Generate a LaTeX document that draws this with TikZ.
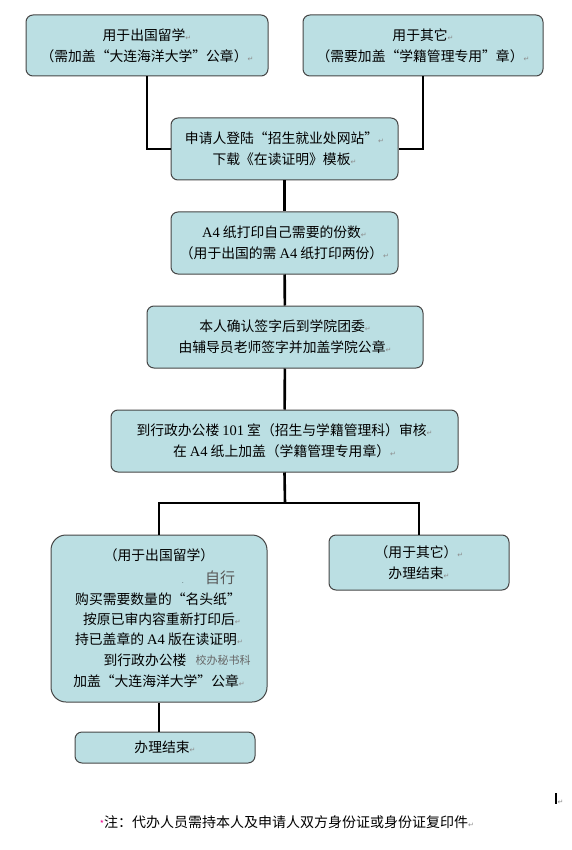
\documentclass[tikz,border=0pt]{standalone}
\usepackage{fontspec}
\setmainfont{Noto Sans CJK SC}
\newfontfamily\tnr{Liberation Serif}
\newfontfamily\dvs{DejaVu Sans}
\definecolor{boxfill}{RGB}{187,223,227}
\definecolor{boxline}{RGB}{70,70,70}
\definecolor{markgray}{RGB}{140,140,140}
\newcommand\retmark{{\dvs\color{markgray}\fontsize{7}{7}\selectfont ↵}}
\newcommand\lat[1]{{\tnr\fontsize{14.5}{14.5}\selectfont #1}}
\tikzset{
  flowbox/.style={draw=boxline, line width=1pt, fill=boxfill, rounded corners=7pt, inner sep=0pt},
  flowtext/.style={align=center, font=\fontsize{13.8}{21}\selectfont, inner sep=0pt},
  lntext/.style={font=\fontsize{13.8}{13.8}\selectfont, inner sep=0pt, anchor=base},
  conn/.style={line width=2.6pt, black}
}
\begin{document}
\begin{tikzpicture}[x=1pt,y=-1pt]
\useasboundingbox (0,0) rectangle (572,850);
% boxes
\node[flowbox, minimum width=242pt, minimum height=61pt] (b1) at (147,45.5) {};
\node[flowbox, minimum width=240pt, minimum height=61pt] (b2) at (423,45.5) {};
\node[flowbox, minimum width=227pt, minimum height=62pt] (b3) at (284.5,149) {};
\node[flowbox, minimum width=227pt, minimum height=62pt] (b4) at (284.5,243) {};
\node[flowbox, minimum width=276pt, minimum height=62pt] (b5) at (285,337) {};
\node[flowbox, minimum width=347pt, minimum height=62pt] (b6) at (284.5,441) {};
\node[flowbox, rounded corners=15pt, minimum width=216pt, minimum height=167pt] (b7) at (159,618.5) {};
\node[flowbox, minimum width=180pt, minimum height=55pt] (b8) at (419,562.5) {};
\node[flowbox, minimum width=180pt, minimum height=31pt] (b9) at (165,747.5) {};
% texts
\node[flowtext] (t1) at (b1) {用于出国留学\retmark\\（需加盖“大连海洋大学”公章）\retmark};
\node[flowtext] (t2) at (b2) {用于其它\retmark\\（需要加盖“学籍管理专用”章）\retmark};
\node[flowtext] (t3) at (b3) {申请人登陆“招生就业处网站”\retmark\\下载《在读证明》模板\retmark};
\node[flowtext] (t4) at (b4) {\lat{A4} 纸打印自己需要的份数\retmark\\（用于出国的需 \lat{A4} 纸打印两份）\retmark};
\node[flowtext] (t5) at (b5) {本人确认签字后到学院团委\retmark\\由辅导员老师签字并加盖学院公章\retmark};
\node[flowtext] (t6) at (b6) {到行政办公楼 \lat{101} 室（招生与学籍管理科）审核\retmark\\在 \lat{A4} 纸上加盖（学籍管理专用章）\retmark};
\node[flowtext] (t8) at (b8) {（用于其它）\retmark\\办理结束\retmark};
\node[flowtext] (t9) at (b9) {办理结束\retmark};
% box 7 lines
\node[lntext] (l1) at (159,560) {（用于出国留学）};
\node[lntext, text=black!65] (l2) at (220,583) {\fontsize{15}{15}\selectfont 自行};
\node[lntext] (l2dot) at (183,583) {\fontsize{6}{6}\selectfont .};
\node[lntext] (l3) at (158,604) {购买需要数量的“名头纸”};
\node[lntext] (l4) at (162,624) {按原已审内容重新打印后\retmark};
\node[lntext] (l5) at (159,644) {持已盖章的 \lat{A4} 版在读证明\retmark};
\node[lntext] (l6a) at (145,665) {到行政办公楼};
\node[lntext, text=black!60] (l6b) at (223,664) {\fontsize{11}{11}\selectfont 校办秘书科};
\node[lntext] (l7) at (159,686) {加盖“大连海洋大学”公章\retmark};
% connectors
\coordinate (j) at (285,503);
\draw[conn] (b1.south) |- (b3.west);
\draw[conn] (b2.south) |- (b3.east);
\draw[conn] (b3) -- (b4);
\draw[conn] (b4) -- (b5);
\draw[conn] (b5) -- (b6);
\draw[conn] (b6.south) -- (j);
\draw[conn] (b7.north) |- (j) -| (b8.north);
\draw[conn] (b7.south) -- (b7.south |- b9.north);
% note
\node[lntext] (note) at (287,827) {{\color{magenta}\fontsize{9}{9}\selectfont *}\fontsize{14}{14}\selectfont 注：代办人员需持本人及申请人双方身份证或身份证复印件\retmark};
\node[inner sep=0pt, minimum width=2.5pt, minimum height=11pt, fill=black] (cursor) at (556,798) {};
\node[inner sep=0pt, anchor=west] (cmark) at (557.5,802) {\retmark};
\end{tikzpicture}
\end{document}
